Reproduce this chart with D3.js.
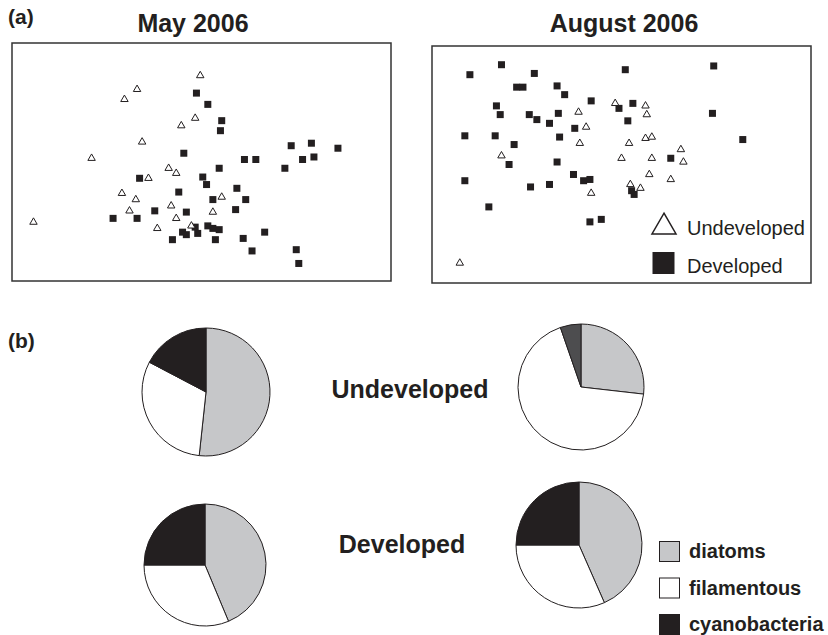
<!DOCTYPE html>
<html>
<head>
<meta charset="utf-8">
<script src="https://cdn.jsdelivr.net/npm/d3@7/dist/d3.min.js"></script>
<style>
  body { margin: 0; background: #fff; }
  svg { display: block; font-family: "Liberation Sans", Arial, sans-serif; }
</style>
</head>
<body>
<div id="chart"></div>
<script>
// NMDS ordination scores (axis 1, axis 2)
var mayUndeveloped = [
  [-0.01, 0.69], [-0.51, 0.58], [-0.61, 0.50], [-0.05, 0.35], [-0.16, 0.29],
  [-0.47, 0.16], [-0.87, 0.03], [-0.26, -0.05], [-0.20, -0.09], [-0.42, -0.13],
  [-0.63, -0.25], [-0.52, -0.30], [0.16, -0.28], [-0.24, -0.35], [-0.57, -0.39],
  [0.09, -0.40], [-0.20, -0.45], [-1.33, -0.48], [-0.35, -0.53], [-0.08, -0.51]
];
var mayDeveloped = [
  [-0.04, 0.55], [0.05, 0.46], [0.16, 0.33], [0.15, 0.25], [0.71, 0.13],
  [0.87, 0.15], [1.08, 0.11], [-0.14, 0.07], [0.34, 0.02], [0.43, 0.02],
  [0.80, 0.02], [0.89, 0.04], [0.66, -0.05], [0.14, -0.05], [-0.49, -0.13],
  [0.01, -0.12], [0.04, -0.18], [0.28, -0.21], [-0.18, -0.24], [0.09, -0.30],
  [0.35, -0.30], [-0.37, -0.39], [-0.12, -0.40], [0.27, -0.38], [-0.70, -0.45],
  [-0.51, -0.45], [-0.05, -0.52], [0.05, -0.51], [0.09, -0.53], [0.14, -0.54],
  [-0.15, -0.56], [-0.12, -0.58], [-0.03, -0.57], [0.50, -0.56], [-0.23, -0.62],
  [0.11, -0.62], [0.33, -0.61], [0.40, -0.71], [0.75, -0.70], [0.77, -0.81]
];
var augUndeveloped = [
  [-0.05, 0.49], [0.19, 0.47], [0.20, 0.40], [-0.34, 0.42], [-0.28, 0.30],
  [-0.33, 0.17], [0.06, 0.17], [0.19, 0.21], [0.24, 0.22], [-0.95, 0.07],
  [0.00, 0.05], [0.24, 0.05], [0.47, 0.12], [0.49, 0.02], [0.22, -0.08],
  [0.39, -0.12], [0.07, -0.16], [0.15, -0.19], [-0.24, -0.23], [-1.28, -0.79]
];
var augDeveloped = [
  [-1.20, 0.72], [-0.95, 0.80], [-0.69, 0.73], [0.03, 0.76], [0.73, 0.79],
  [-0.83, 0.62], [-0.78, 0.62], [-0.51, 0.63], [-0.45, 0.56], [-0.24, 0.51],
  [-0.99, 0.47], [-0.96, 0.40], [-0.73, 0.40], [-0.67, 0.36], [-0.50, 0.41],
  [-0.57, 0.33], [-0.37, 0.29], [-0.02, 0.45], [0.09, 0.49], [0.05, 0.35],
  [0.72, 0.41], [-1.24, 0.23], [-1.00, 0.23], [-0.49, 0.22], [-0.85, 0.16],
  [0.96, 0.20], [-0.89, 0.00], [-0.51, 0.02], [0.39, 0.05], [-1.24, -0.13],
  [-0.38, -0.08], [-0.30, -0.13], [-0.25, -0.12], [-0.72, -0.18], [-0.57, -0.16],
  [0.08, -0.21], [0.10, -0.24], [-1.05, -0.34], [-0.25, -0.46], [-0.16, -0.44]
];

// algal composition (% of biovolume)
var groups = ["diatoms", "filamentous", "cyanobacteria"];
var mayUndevComp = [51.7, 31.0, 17.3];
var augUndevComp = [26.8, 67.9, 5.3];
var mayDevComp = [43.7, 31.3, 25.0];
var augDevComp = [43.4, 31.6, 25.0];

var siteTypes = ["Undeveloped", "Developed"];
var months = ["May 2006", "August 2006"];

var width = 828, height = 635;
var ink = "#231f20";

var svg = d3.select("#chart").append("svg")
  .attr("width", width)
  .attr("height", height);

// ---------- (a) NMDS panels ----------
svg.append("text").attr("x", 8).attr("y", 24)
  .attr("font-size", 21).attr("font-weight", "bold").attr("fill", ink)
  .text("(a)");

var panels = [
  { title: months[0], tx: 193, left: 12, top: 43, w: 379, h: 238, und: mayUndeveloped, dev: mayDeveloped },
  { title: months[1], tx: 624, left: 432, top: 46, w: 379, h: 237, und: augUndeveloped, dev: augDeveloped }
];

var triSymbol = d3.symbol().type(d3.symbolTriangle).size(24);

panels.forEach(function(p) {
  svg.append("text")
    .attr("x", p.tx).attr("y", 32)
    .attr("text-anchor", "middle")
    .attr("font-size", 25).attr("font-weight", "bold").attr("fill", ink)
    .text(p.title);

  var g = svg.append("g").attr("transform", "translate(" + p.left + "," + p.top + ")");
  var x = d3.scaleLinear().domain([-1.5, 1.5]).range([0, p.w]);
  var y = d3.scaleLinear().domain([-0.95, 0.95]).range([p.h, 0]);

  g.append("rect")
    .attr("width", p.w).attr("height", p.h)
    .attr("fill", "none").attr("stroke", "#333").attr("stroke-width", 1.5);

  g.selectAll("rect.dev").data(p.dev).enter().append("rect")
    .attr("class", "dev")
    .attr("x", function(d) { return x(d[0]) - 3.5; })
    .attr("y", function(d) { return y(d[1]) - 3.5; })
    .attr("width", 7).attr("height", 7)
    .attr("fill", ink);

  g.selectAll("path.und").data(p.und).enter().append("path")
    .attr("class", "und")
    .attr("d", triSymbol)
    .attr("transform", function(d) { return "translate(" + x(d[0]) + "," + y(d[1]) + ")"; })
    .attr("fill", "#fff").attr("stroke", ink).attr("stroke-width", 1);
});

// legend inside August panel
var leg = svg.append("g").attr("transform", "translate(652,212)");
leg.append("path")
  .attr("d", d3.symbol().type(d3.symbolTriangle).size(250))
  .attr("transform", "translate(12,15)")
  .attr("fill", "#fff").attr("stroke", ink).attr("stroke-width", 1.5);
leg.append("text").attr("x", 35).attr("y", 23)
  .attr("font-size", 20).attr("fill", ink).text(siteTypes[0]);
leg.append("rect").attr("x", 0.5).attr("y", 40).attr("width", 22).attr("height", 22).attr("fill", ink);
leg.append("text").attr("x", 35).attr("y", 61)
  .attr("font-size", 20).attr("fill", ink).text(siteTypes[1]);

// ---------- (b) pie charts ----------
svg.append("text").attr("x", 8).attr("y", 348)
  .attr("font-size", 21).attr("font-weight", "bold").attr("fill", ink)
  .text("(b)");

var color = d3.scaleOrdinal().domain(groups).range(["#c6c7c9", "#ffffff", ink]);
var pie = d3.pie().sort(null);

var pies = [
  { vals: mayUndevComp, cx: 206, cy: 392, r: 64 },
  { vals: augUndevComp, cx: 581, cy: 387, r: 63, cyanFill: "#4d4d4f" },
  { vals: mayDevComp, cx: 205, cy: 565, r: 61 },
  { vals: augDevComp, cx: 579, cy: 545, r: 63 }
];

pies.forEach(function(p) {
  var arc = d3.arc().innerRadius(0).outerRadius(p.r);
  var g = svg.append("g").attr("transform", "translate(" + p.cx + "," + p.cy + ")");
  g.selectAll("path").data(pie(p.vals)).enter().append("path")
    .attr("d", arc)
    .attr("fill", function(d, i) {
      if (groups[i] == "cyanobacteria" && p.cyanFill) return p.cyanFill;
      return color(groups[i]);
    })
    .attr("stroke", ink).attr("stroke-width", 1);
});

svg.append("text").attr("x", 410).attr("y", 398)
  .attr("text-anchor", "middle")
  .attr("font-size", 25).attr("font-weight", "bold").attr("fill", ink)
  .text(siteTypes[0]);
svg.append("text").attr("x", 402).attr("y", 553)
  .attr("text-anchor", "middle")
  .attr("font-size", 25).attr("font-weight", "bold").attr("fill", ink)
  .text(siteTypes[1]);

// composition legend
var legB = svg.append("g").attr("transform", "translate(659,541)");
groups.forEach(function(name, i) {
  legB.append("rect")
    .attr("x", 0.5).attr("y", i * 36.5 + 0.5)
    .attr("width", 20).attr("height", 20)
    .attr("fill", color(name)).attr("stroke", ink).attr("stroke-width", 1);
  legB.append("text")
    .attr("x", 30).attr("y", i * 36.5 + 17)
    .attr("font-size", 20).attr("font-weight", "bold").attr("fill", ink)
    .text(name);
});
</script>
</body>
</html>
